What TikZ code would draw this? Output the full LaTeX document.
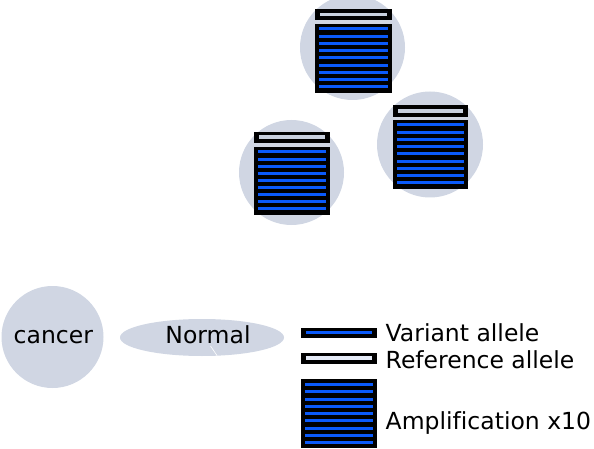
\documentclass[tikz,border=0pt]{standalone}
\usepackage{fontspec}
\usetikzlibrary{shapes.geometric}
\setmainfont[Ligatures=NoCommon]{DejaVu Sans}
\definecolor{cellgray}{RGB}{208,214,227}
\definecolor{varblue}{RGB}{10,90,250}
\definecolor{reflight}{RGB}{200,208,222}
\definecolor{reflegend}{RGB}{228,234,246}
\tikzset{
  cell/.style={circle, fill=cellgray, draw=none, inner sep=0pt},
  lbl/.style={inner sep=0pt, font=\fontsize{23.5}{28}\selectfont, text=black},
  blk/.style={fill=black, draw=black, line width=0.8pt},
  stripe/.style={fill=varblue, draw=none},
}
% amplification block: #1=x1, #2=y1, #3=x2, #4=y2
\newcommand{\ampblk}[4]{%
  \fill[blk] (#1,#2) rectangle (#3,#4);
  \foreach \i in {0,...,8}{%
    \pgfmathsetmacro{\yc}{#2+5+\i*(#4-#2-10)/8}%
    \fill[stripe] (#1+4,\yc-1.5) rectangle (#3-3.5,\yc+1.5);
  }%
}
% #5 = inner colour
\newcommand{\refbar}[5]{%
  \fill[blk] (#1,#2) rectangle (#3,#4);
  \fill[#5] (#1+4.5,{(#2+#4)/2-1.9}) rectangle (#3-4,{(#2+#4)/2+1.9});
}
\newcommand{\varbar}[4]{%
  \fill[blk] (#1,#2) rectangle (#3,#4);
  \fill[stripe] (#1+4.5,{(#2+#4)/2-1.8}) rectangle (#3-4,{(#2+#4)/2+1.8});
}
\begin{document}
\begin{tikzpicture}[x=1pt,y=-1pt]
\useasboundingbox (0,0) rectangle (594,449);
% cells
\node[cell, minimum size=105pt] (ctop) at (352.5,47.5) {};
\node[cell, minimum size=105pt] (cleft) at (291.5,172.5) {};
\node[cell, minimum size=106pt] (cright) at (430,144.5) {};
% blocks
\refbar{315}{9.5}{391}{19.5}{reflight}
\ampblk{315}{24}{391}{92}
\refbar{254}{132}{329}{142}{reflight}
\ampblk{254}{147}{329}{214}
\refbar{393}{105.5}{467}{116}{reflight}
\ampblk{393}{120}{467}{188}
% cancer and normal
\node[cell, minimum size=102pt] (cancer) at (52.5,337) {};
\node[lbl, anchor=base] (cancertxt) at (53.3,343.3) {cancer};
\node[ellipse, fill=cellgray, draw=none, minimum width=164pt, minimum height=37pt, inner sep=0pt] (normal) at (202,337.5) {};
\node[lbl, anchor=base] (normaltxt) at (208,343.3) {Normal};
\coordinate (wl1) at (210.5,346);
\coordinate (wl2) at (217,355.5);
\draw[white, line width=0.6pt] (wl1) -- (wl2);
% legend
\varbar{301}{328}{376}{337}
\refbar{301}{353.5}{376}{363}{reflegend}
\ampblk{301}{379.5}{376}{447.5}
\node[lbl, anchor=base west] (tvar) at (385.5,341) {Variant allele};
\node[lbl, anchor=base west] (tref) at (385.5,368.3) {Reference allele};
\node[lbl, anchor=base west] (tamp) at (385.5,429.3) {Amplification x10};
\end{tikzpicture}
\end{document}
